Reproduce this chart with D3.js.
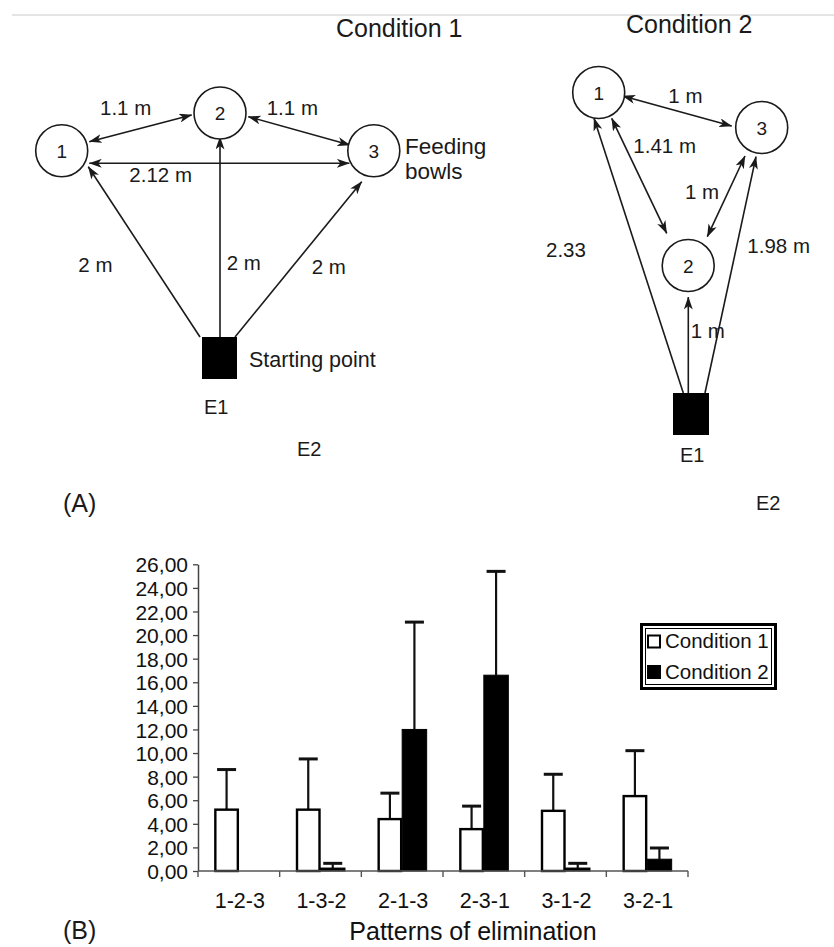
<!DOCTYPE html>
<html>
<head>
<meta charset="utf-8">
<script src="https://cdn.jsdelivr.net/npm/d3@7"></script>
<style>
  html, body { margin: 0; padding: 0; background: #fff; }
  svg { display: block; font-family: "Liberation Sans", Arial, Helvetica, sans-serif; }
</style>
</head>
<body>
<svg id="fig" width="834" height="947"></svg>
<script>
// ---- Panel B data: mean number of trials per elimination pattern ----
const categories = ["1-2-3", "1-3-2", "2-1-3", "2-3-1", "3-1-2", "3-2-1"];
const seriesNames = ["Condition 1", "Condition 2"];
const cond1Mean = [5.2, 5.2, 4.4, 3.55, 5.1, 6.35];
const cond1Err  = [3.4, 4.3, 2.2, 1.95, 3.1, 3.85];
const cond2Mean = [0, 0.25, 12.0, 16.6, 0.25, 1.0];
const cond2Err  = [0, 0.4, 9.1, 8.8, 0.4, 0.95];
const yTicks = [0, 2, 4, 6, 8, 10, 12, 14, 16, 18, 20, 22, 24, 26];
const xTitle = "Patterns of elimination";

// ---- Panel A data: bowls and the distances between them ----
const bowls = ["1", "2", "3"];
const cond1Links = [
  { from: "1", to: "2", text: "1.1 m", two: true },
  { from: "2", to: "3", text: "1.1 m", two: true },
  { from: "1", to: "3", text: "2.12 m", two: true },
  { from: "E1", to: "1", text: "2 m", two: false },
  { from: "E1", to: "2", text: "2 m", two: false },
  { from: "E1", to: "3", text: "2 m", two: false }
];
const cond2Links = [
  { from: "1", to: "3", text: "1 m", two: true },
  { from: "1", to: "2", text: "1.41 m", two: true },
  { from: "3", to: "2", text: "1 m", two: true },
  { from: "E1", to: "1", text: "2.33", two: false },
  { from: "E1", to: "2", text: "1 m", two: false },
  { from: "E1", to: "3", text: "1.98 m", two: false }
];

// ---- Drawing layout for the two arena sketches ----
const layout = {
  cond1: {
    title: { x: 336, y: 37 },
    bowls: { "1": [61.7, 150.8], "2": [220, 113], "3": [373.8, 150.8] },
    start: { x: 202, y: 337, w: 35, h: 42 },
    arrows: [
      [[89.3, 141.7], [191.7, 115]],
      [[248.3, 116.7], [350, 145]],
      [[89.3, 163.3], [349.3, 163.3]],
      [[200, 337], [88.3, 166.7]],
      [[220, 337], [220, 137]],
      [[235, 337], [361.7, 181.7]]
    ],
    // one label slot per link, same order as the links
    labels: [[100, 115], [266.7, 115], [129.3, 181.7], [78.3, 271.7], [226.7, 270], [311.7, 274]],
    e1: { x: 204, y: 414 }, e2: { x: 297, y: 456 }
  },
  cond2: {
    title: { x: 626, y: 33 },
    bowls: { "1": [598.7, 92.5], "2": [688.2, 265.5], "3": [761.7, 127.5] },
    start: { x: 673, y: 393, w: 36, h: 42 },
    arrows: [
      [[622.7, 96], [731.7, 126]],
      [[611.7, 118.3], [666.7, 233.3]],
      [[745, 156], [707.3, 236.7]],
      [[683.3, 393], [594, 118.3]],
      [[688.3, 393], [688.3, 297]],
      [[705, 393], [756, 156.7]]
    ],
    // one label slot per link, same order as the links
    labels: [[668.3, 103.3], [633.3, 152.7], [685, 199.3], [546, 256.7], [690.7, 338.3], [747.3, 253.3]],
    e1: { x: 680, y: 461.7 }, e2: { x: 756, y: 510 }
  }
};

const svg = d3.select("#fig");
const ink = "#1a1a1a";

// faint rule across the top of the figure
svg.append("line").attr("x1", 12).attr("x2", 834).attr("y1", 15).attr("y2", 15)
  .attr("stroke", "#e4e4e4").attr("stroke-width", 2);

// arrowhead marker (barbed), reversed automatically at the start of a path
const defs = svg.append("defs");
defs.append("marker")
  .attr("id", "head")
  .attr("markerUnits", "userSpaceOnUse")
  .attr("viewBox", "0 0 13 9")
  .attr("markerWidth", 13).attr("markerHeight", 9)
  .attr("refX", 12.5).attr("refY", 4.5)
  .attr("orient", "auto-start-reverse")
  .append("path")
  .attr("d", "M0,0 L13,4.5 L0,9 L3.5,4.5 Z")
  .attr("fill", ink);

function drawArena(g, cfg, links, titleText) {
  g.append("text").attr("x", cfg.title.x).attr("y", cfg.title.y)
    .attr("font-size", 25).attr("fill", ink).text(titleText);

  links.forEach((lk, i) => {
    const [a, b] = cfg.arrows[i];
    const ln = g.append("line")
      .attr("x1", a[0]).attr("y1", a[1]).attr("x2", b[0]).attr("y2", b[1])
      .attr("stroke", ink).attr("stroke-width", 1.6)
      .attr("marker-end", "url(#head)");
    if (lk.two) ln.attr("marker-start", "url(#head)");
  });

  bowls.forEach(id => {
    const [cx, cy] = cfg.bowls[id];
    g.append("circle").attr("cx", cx).attr("cy", cy).attr("r", 26)
      .attr("fill", "#fff").attr("stroke", ink).attr("stroke-width", 1.6);
    g.append("text").attr("x", cx).attr("y", cy + 7).attr("text-anchor", "middle")
      .attr("font-size", 19).attr("fill", ink).text(id);
  });

  links.forEach((lk, i) => {
    const p = cfg.labels[i];
    g.append("text").attr("x", p[0]).attr("y", p[1])
      .attr("font-size", 20.5).attr("fill", ink).text(lk.text);
  });

  g.append("rect").attr("x", cfg.start.x).attr("y", cfg.start.y)
    .attr("width", cfg.start.w).attr("height", cfg.start.h).attr("fill", "#000");

  g.append("text").attr("x", cfg.e1.x).attr("y", cfg.e1.y)
    .attr("font-size", 20).attr("fill", ink).text("E1");
  g.append("text").attr("x", cfg.e2.x).attr("y", cfg.e2.y)
    .attr("font-size", 20).attr("fill", ink).text("E2");
}

// ---- Panel A ----
const gA1 = svg.append("g");
drawArena(gA1, layout.cond1, cond1Links, "Condition 1");
gA1.append("text").attr("x", 249).attr("y", 367).attr("font-size", 21.5)
  .attr("fill", ink).text("Starting point");
gA1.append("text").attr("font-size", 22.5).attr("fill", ink)
  .selectAll("tspan").data(["Feeding", "bowls"]).join("tspan")
  .attr("x", 405).attr("y", (d, i) => 154 + i * 24.5).text(d => d);

const gA2 = svg.append("g");
drawArena(gA2, layout.cond2, cond2Links, "Condition 2");

svg.append("text").attr("x", 63).attr("y", 512).attr("font-size", 25)
  .attr("fill", ink).text("(A)");

// ---- Panel B: grouped bar chart with error bars ----
const x0 = d3.scaleBand().domain(categories).range([198, 688]).paddingInner(0).paddingOuter(0);
const x1 = d3.scaleBand().domain(seriesNames).range([0, x0.bandwidth()]).paddingInner(0).paddingOuter(0.667);
const y = d3.scaleLinear().domain([0, 26]).range([871, 564.3]);

const comma = d3.formatLocale({ decimal: ",", thousands: ".", grouping: [3], currency: ["", ""] }).format(".2f");

const gB = svg.append("g");

// y axis
const yAxis = gB.append("g").attr("transform", "translate(198,0)")
  .call(d3.axisLeft(y).tickValues(yTicks).tickFormat(comma).tickSize(5).tickSizeOuter(0).tickPadding(5));
yAxis.select(".domain").attr("stroke", "#444").attr("stroke-width", 1.5);
yAxis.selectAll(".tick line").attr("stroke", "#444").attr("stroke-width", 1.3);
yAxis.selectAll(".tick text").attr("font-size", 21).attr("fill", "#111")
  .attr("font-family", "'Liberation Sans', Arial, sans-serif").attr("dy", "0.36em");

// bars
const rows = categories.map((c, i) => ({
  cat: c,
  vals: [
    { s: seriesNames[0], m: cond1Mean[i], e: cond1Err[i] },
    { s: seriesNames[1], m: cond2Mean[i], e: cond2Err[i] }
  ]
}));

const grp = gB.selectAll("g.cat").data(rows).join("g")
  .attr("class", "cat").attr("transform", d => `translate(${x0(d.cat)},0)`);

const bw = x1.bandwidth();
grp.selectAll("g.bar").data(d => d.vals).join("g").attr("class", "bar").each(function (d) {
  const g = d3.select(this);
  if (d.m <= 0) return;
  const bx = x1(d.s);
  const white = d.s === seriesNames[0];
  const cx = bx + bw / 2;
  if (d.e > 0) {
    g.append("line").attr("x1", cx).attr("x2", cx).attr("y1", y(d.m)).attr("y2", y(d.m + d.e))
      .attr("stroke", "#111").attr("stroke-width", 2.2);
    g.append("line").attr("x1", cx - 9.5).attr("x2", cx + 9.5)
      .attr("y1", y(d.m + d.e)).attr("y2", y(d.m + d.e))
      .attr("stroke", "#111").attr("stroke-width", 3);
  }
  g.append("rect")
    .attr("x", bx + (white ? 1 : 0)).attr("width", bw - (white ? 2 : 0))
    .attr("y", y(d.m)).attr("height", y(0) - y(d.m))
    .attr("fill", white ? "#fff" : "#000")
    .attr("stroke", "#000").attr("stroke-width", white ? 2.4 : 1);
});

// x axis: baseline with ticks at the group boundaries
gB.append("line").attr("x1", 198).attr("x2", 688).attr("y1", y(0)).attr("y2", y(0))
  .attr("stroke", "#555").attr("stroke-width", 1.5);
const bounds = categories.map(c => x0(c)).concat([x0.range()[1]]);
gB.selectAll("line.xt").data(bounds).join("line").attr("class", "xt")
  .attr("x1", d => d).attr("x2", d => d).attr("y1", y(0)).attr("y2", y(0) + 6)
  .attr("stroke", "#555").attr("stroke-width", 1.4);
gB.selectAll("text.xl").data(categories).join("text").attr("class", "xl")
  .attr("x", d => x0(d) + x0.bandwidth() / 2 + 1).attr("y", 908)
  .attr("text-anchor", "middle").attr("font-size", 21.5).attr("fill", "#111").text(d => d);
gB.append("text").attr("x", 473).attr("y", 940).attr("text-anchor", "middle")
  .attr("font-size", 25).attr("fill", "#111").text(xTitle);

// legend with a double-line frame
const lg = gB.append("g");
lg.append("rect").attr("x", 641.5).attr("y", 624.5).attr("width", 134).attr("height", 64)
  .attr("fill", "#fff").attr("stroke", "#000").attr("stroke-width", 3);
lg.append("rect").attr("x", 645.5).attr("y", 628.5).attr("width", 126).attr("height", 56)
  .attr("fill", "none").attr("stroke", "#000").attr("stroke-width", 1);
seriesNames.forEach((s, i) => {
  lg.append("rect").attr("x", 648).attr("y", 635.5 + i * 30.5).attr("width", 12).attr("height", 12)
    .attr("fill", i === 0 ? "#fff" : "#000").attr("stroke", "#000").attr("stroke-width", 2);
  lg.append("text").attr("x", 665).attr("y", 648 + i * 31).attr("font-size", 20.5)
    .attr("fill", "#111").text(s);
});

svg.append("text").attr("x", 63).attr("y", 939).attr("font-size", 25)
  .attr("fill", ink).text("(B)");
</script>
</body>
</html>
